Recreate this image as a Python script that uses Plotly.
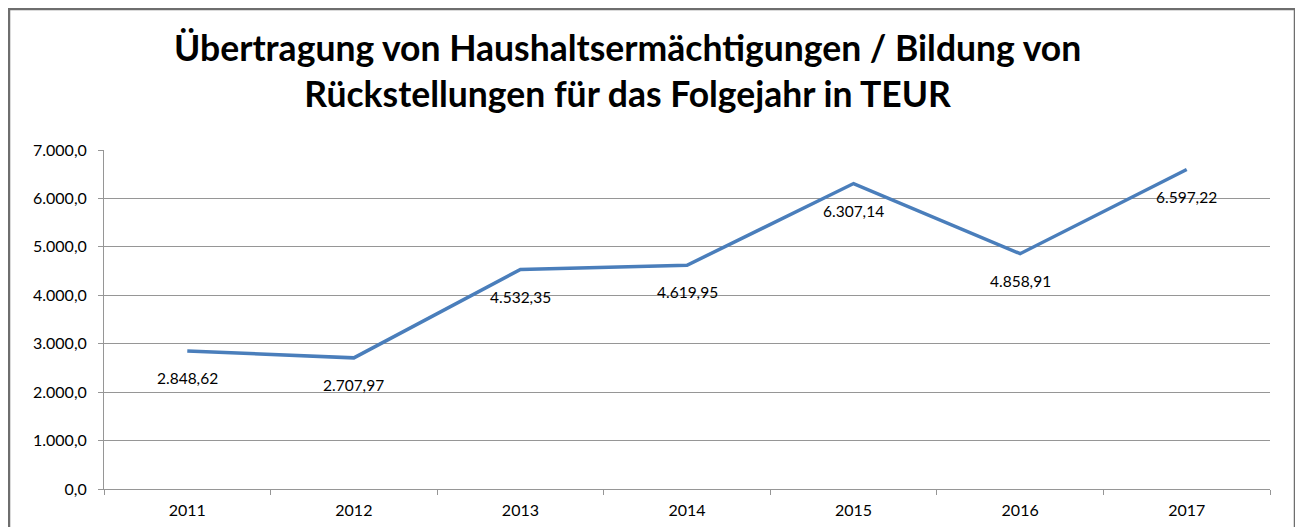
"""
Übertragung von Haushaltsermächtigungen – Liniendiagramm
"""

import plotly.graph_objects as go

# Daten
jahre = ["2011", "2012", "2013", "2014", "2015", "2016", "2017"]
werte = [2848.62, 2707.97, 4532.35, 4619.95, 6307.14, 4858.91, 6597.22]

titel = (
    "<b>Übertragung von Haushaltsermächtigungen / Bildung von<br>"
    "Rückstellungen für das Folgejahr in TEUR</b>"
)

FONT = "Lato, Carlito, Calibri, sans-serif"
GRID = "#969696"

# Seite hat 8px Rand, daher Figur kleiner und alles um 8px verschoben
W, H = 1295, 519
L, R, T, B = 96, 33, 142, 38
pw, ph = W - L - R, H - T - B


def px_x(x):
    return (x - L) / pw


def px_y(y):
    return (H - B - y) / ph


def de_zahl(v):
    # deutsches Zahlenformat 1.234,56
    return f"{v:,.2f}".replace(",", "X").replace(".", ",").replace("X", ".")


fig = go.Figure(
    go.Scatter(
        x=jahre,
        y=werte,
        mode="lines",
        line=dict(color="#4a7ebb", width=3.5),
        hoverinfo="skip",
    )
)

# Datenbeschriftungen unterhalb der Punkte (x als Kategorie-Index)
for i, wert in enumerate(werte):
    fig.add_annotation(
        x=i,
        y=wert,
        text=de_zahl(wert),
        showarrow=False,
        yshift=-27,
        font=dict(family=FONT, size=15.5, color="#000000"),
    )

# Rahmen um das ganze Diagramm
fig.add_shape(
    type="rect",
    xref="paper",
    yref="paper",
    x0=px_x(1),
    x1=px_x(1287),
    y0=px_y(560),
    y1=px_y(1),
    line=dict(color="#6e6e6e", width=2.5),
    fillcolor="rgba(0,0,0,0)",
    layer="below",
)

fig.add_annotation(
    text=titel,
    xref="paper",
    yref="paper",
    x=px_x(619),
    y=px_y(63),
    xanchor="center",
    yanchor="middle",
    showarrow=False,
    font=dict(family=FONT, size=35.5, color="#000000"),
)

fig.update_layout(
    width=W,
    height=H,
    margin=dict(l=L, r=R, t=T, b=B),
    paper_bgcolor="white",
    plot_bgcolor="white",
    showlegend=False,
    separators=",.",
    font=dict(family=FONT, size=16, color="#000000"),
)

fig.update_xaxes(
    type="category",
    range=[-0.5, 6.5],
    automargin=False,
    showgrid=False,
    showline=True,
    linecolor=GRID,
    linewidth=1,
    ticks="outside",
    tickson="boundaries",
    ticklen=5,
    tickcolor=GRID,
    ticklabelstandoff=7,
    tickfont=dict(family=FONT, size=16),
)

fig.update_yaxes(
    range=[0, 7000],
    dtick=1000,
    tickformat=",.1f",
    automargin=False,
    showgrid=True,
    gridcolor=GRID,
    gridwidth=1,
    zeroline=False,
    showline=True,
    linecolor=GRID,
    linewidth=1,
    ticks="outside",
    ticklen=5,
    tickcolor=GRID,
    ticklabelstandoff=8,
    tickfont=dict(family=FONT, size=16),
)

fig.write_html("out.html")
